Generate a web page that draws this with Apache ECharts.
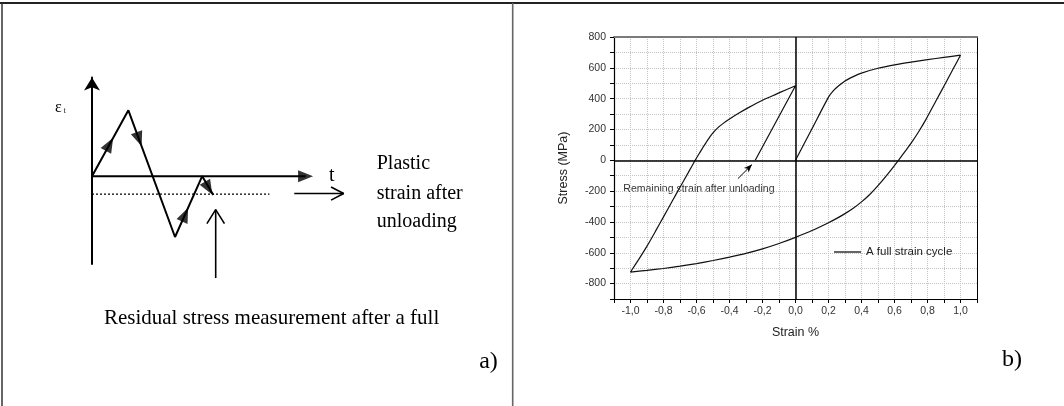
<!DOCTYPE html>
<html>
<head>
<meta charset="utf-8">
<title>Strain cycle</title>
<script src="https://cdn.jsdelivr.net/npm/echarts@6/dist/echarts.min.js"></script>
<style>
  html, body { margin: 0; padding: 0; background: #fff; }
  #main { width: 1064px; height: 406px; }
</style>
</head>
<body>
<div id="main"></div>
<script>
// b) stress-strain loop (strain %, stress MPa)
var loadStrain   = [0, 0.1, 0.2, 0.23, 0.26, 0.3, 0.35, 0.4, 0.5, 0.6, 0.7, 0.8, 0.9, 1.0];
var loadStress   = [0, 205, 410, 452, 482, 515, 543, 566, 597, 619, 637, 653, 668, 682];
var unloadStrain = [1.0, 0.955, 0.91, 0.85, 0.79, 0.75, 0.71, 0.67, 0.624, 0.56, 0.5, 0.45, 0.4, 0.35, 0.3, 0.25,
                    0.2, 0.1, 0, -0.1, -0.2, -0.3, -0.4, -0.5, -0.6, -0.7, -0.8, -0.9, -1.0];
var unloadStress = [682, 592, 502, 383, 264, 192, 126, 66, 0, -88, -165, -222, -270, -311, -346, -377,
                    -405, -456, -500, -540, -575, -604, -628, -650, -670, -687, -702, -714, -725];
var reloadStrain = [-1.0, -0.95, -0.9, -0.85, -0.8, -0.75, -0.7, -0.65, -0.608, -0.58, -0.56, -0.54, -0.52,
                    -0.5, -0.47, -0.44, -0.4, -0.34, -0.28, -0.2, -0.12, -0.06, 0];
var reloadStress = [-725, -643, -557, -463, -367, -271, -175, -80, 0, 50, 85, 118, 150,
                    178, 212, 238, 268, 308, 345, 390, 428, 456, 484];
var remainStrain = [0, -0.244];
var remainStress = [484, 0];
// annotation arrow pointing at the remaining strain
var noteFrom = [-0.349, -119];
var noteTo   = [-0.264, -28];

// a) schematic strain history (arbitrary units)
var zigT   = [0, 1.7, 3.88, 5.15, 5.67];
var zigEps = [0, 3.0, -2.77, 0, -0.86];
var dotT   = [0, 8.29];
var dotEps = [-0.82, -0.82];
var tAxisT   = [0, 9.98];
var tAxisEps = [0, 0];
var headT   = [0.82, 2.2, 4.35, 5.45, 9.98];
var headEps = [1.45, 1.68, -1.75, -0.55, 0];
var headRot = [-29, -160, -24, -150, -90];
// open arrows: [x0, y0, x1, y1]
var upArrow    = [5.78, -4.64, 5.78, -1.52];
var rightArrow = [9.45, -0.79, 11.76, -0.79];

function zip(a, b) {
  var out = [];
  for (var i = 0; i < a.length; i++) out.push([a[i], b[i]]);
  return out;
}

var loop = zip(loadStrain, loadStress)
  .concat(zip(unloadStrain, unloadStress).slice(1))
  .concat(zip(reloadStrain, reloadStress).slice(1))
  .concat(zip(remainStrain, remainStress).slice(1));

var heads = [];
for (var i = 0; i < headT.length; i++) {
  heads.push({ value: [headT[i], headEps[i]], symbolRotate: headRot[i] });
}

// shaft + two barbs for an open arrow head
function openArrow(a, barbBack, barbSide) {
  var x0 = a[0], y0 = a[1], x1 = a[2], y1 = a[3];
  var b1, b2;
  if (x0 === x1) {
    b1 = [x1 - barbSide, y1 - barbBack];
    b2 = [x1 + barbSide, y1 - barbBack];
  } else {
    b1 = [x1 - barbBack, y1 + barbSide];
    b2 = [x1 - barbBack, y1 - barbSide];
  }
  var st = { color: '#000', width: 1.6 };
  return [
    { type: 'line', xAxisIndex: 2, yAxisIndex: 2, data: [[x0, y0], [x1, y1]], symbol: 'none', clip: false, silent: true, lineStyle: st },
    { type: 'line', xAxisIndex: 2, yAxisIndex: 2, data: [b1, [x1, y1], b2], symbol: 'none', clip: false, silent: true, lineStyle: st }
  ];
}

var sans = 'Liberation Sans, Arial, sans-serif';
var serif = 'Liberation Serif, Times New Roman, serif';

var myChart = echarts.init(document.getElementById('main'));

function txt(x, y, s, size, font, align, color) {
  return {
    type: 'text', x: x, y: y, silent: true,
    style: { text: s, font: size + 'px ' + font, fill: color || '#000', textAlign: align || 'left', textVerticalAlign: 'middle' }
  };
}
function seg(x1, y1, x2, y2, color, w) {
  return { type: 'line', silent: true, shape: { x1: x1, y1: y1, x2: x2, y2: y2 }, style: { stroke: color, lineWidth: w } };
}

var option = {
  backgroundColor: '#fff',
  animation: false,
  legend: {
    data: ['A full strain cycle'],
    left: 829, top: 241,
    icon: 'rect',
    itemWidth: 27, itemHeight: 1.3,
    itemStyle: { color: '#111' },
    textStyle: { fontFamily: sans, fontSize: 11.5, color: '#222' }
  },
  grid: [
    { left: 614, top: 37, width: 363, height: 262 },
    { left: 92, top: 77.4, width: 256.8, height: 186.6 }
  ],
  xAxis: [
    {
      gridIndex: 0, type: 'value', min: -1.1, max: 1.1, interval: 0.1, position: 'bottom',
      name: 'Strain %', nameLocation: 'middle', nameGap: 27,
      nameTextStyle: { fontFamily: sans, fontSize: 12.5, color: '#222' },
      axisLine: { onZero: false, lineStyle: { color: '#000', width: 1.2 } },
      axisTick: { length: 4, lineStyle: { color: '#000' } },
      axisLabel: {
        margin: 7, fontFamily: sans, fontSize: 10.5, color: '#333',
        formatter: function (v) {
          var k = Math.round(v * 10);
          if (k % 2 !== 0) return '';
          return (k / 10).toFixed(1).replace('.', ',');
        }
      },
      splitLine: { lineStyle: { color: '#c4c4c4', type: 'dotted', width: 1 } }
    },
    {
      gridIndex: 0, type: 'value', min: -1.1, max: 1.1, interval: 0.1, position: 'top',
      axisLine: { onZero: false, lineStyle: { color: '#7a7a7a', width: 2 } },
      axisTick: { show: false }, axisLabel: { show: false }, splitLine: { show: false }
    },
    {
      gridIndex: 1, type: 'value', min: 0, max: 12,
      axisLine: { show: false },
      axisTick: { show: false }, axisLabel: { show: false }, splitLine: { show: false }
    }
  ],
  yAxis: [
    {
      gridIndex: 0, type: 'value', min: -900, max: 800, interval: 100,
      name: 'Stress (MPa)', nameLocation: 'middle', nameGap: 44, nameRotate: 90,
      nameTextStyle: { fontFamily: sans, fontSize: 12.5, color: '#222' },
      axisLine: { onZero: false, lineStyle: { color: '#000', width: 1.2 } },
      axisTick: { length: 4, lineStyle: { color: '#000' } },
      axisLabel: {
        margin: 8, fontFamily: sans, fontSize: 10.5, color: '#333',
        formatter: function (v) {
          var k = Math.round(v);
          return k % 200 === 0 ? String(k) : '';
        }
      },
      splitLine: { lineStyle: { color: '#c4c4c4', type: 'dotted', width: 1 } }
    },
    {
      gridIndex: 0, type: 'value', min: -900, max: 800, interval: 100, position: 'right',
      axisLine: { onZero: false, lineStyle: { color: '#000', width: 1 } },
      axisTick: { show: false }, axisLabel: { show: false }, splitLine: { show: false }
    },
    {
      gridIndex: 1, type: 'value', min: -4, max: 4.5,
      axisLine: { onZero: false, symbol: ['none', 'arrow'], symbolSize: [12, 13], lineStyle: { color: '#000', width: 2 } },
      axisTick: { show: false }, axisLabel: { show: false }, splitLine: { show: false }
    }
  ],
  series: [
    {
      name: 'A full strain cycle', type: 'line', xAxisIndex: 0, yAxisIndex: 0,
      data: loop, symbol: 'none', silent: true, smooth: 0.2,
      lineStyle: { color: '#111', width: 1.2 },
      itemStyle: { color: '#111' },
      markLine: {
        silent: true, symbol: ['none', 'none'], animation: false,
        label: { show: false },
        lineStyle: { color: '#000', width: 1.5, type: 'solid' },
        data: [
          { yAxis: 0 },
          { xAxis: 0 },
          [
            { coord: noteFrom, symbol: 'none', lineStyle: { width: 1 } },
            { coord: noteTo, symbol: 'arrow', symbolSize: [5, 8] }
          ]
        ]
      }
    },
    {
      type: 'line', xAxisIndex: 2, yAxisIndex: 2, data: zip(zigT, zigEps),
      symbol: 'none', silent: true, lineStyle: { color: '#000', width: 2 }
    },
    {
      type: 'line', xAxisIndex: 2, yAxisIndex: 2, data: zip(tAxisT, tAxisEps),
      symbol: 'none', silent: true, lineStyle: { color: '#000', width: 2 }
    },
    {
      type: 'line', xAxisIndex: 2, yAxisIndex: 2, data: zip(dotT, dotEps),
      symbol: 'none', silent: true, lineStyle: { color: '#000', width: 1.3, type: [2, 2] }
    },
    {
      type: 'scatter', xAxisIndex: 2, yAxisIndex: 2, data: heads,
      symbol: 'triangle', symbolSize: [12, 15], silent: true, itemStyle: { color: '#000' }
    }
  ].concat(openArrow(upArrow, 0.64, 0.41)).concat(openArrow(rightArrow, 0.59, 0.3)),
  graphic: [
    seg(0, 3, 1064, 3, '#222', 2),
    seg(2, 3, 2, 406, '#333', 1.5),
    seg(512.7, 3, 512.7, 406, '#666', 1.6),
    txt(55, 108, 'ε', 16, serif, 'left'),
    txt(63.5, 111, 't', 9, serif, 'left', '#333'),
    txt(331.7, 176, 't', 20, serif, 'center'),
    txt(376.7, 163.3, 'Plastic', 20, serif, 'left'),
    txt(376.7, 193.3, 'strain after', 20, serif, 'left'),
    txt(376.7, 221.7, 'unloading', 20, serif, 'left'),
    txt(271.6, 318.3, 'Residual stress measurement after a full', 21, serif, 'center'),
    txt(488.5, 361.7, 'a)', 24, serif, 'center'),
    txt(1012, 360, 'b)', 24, serif, 'center'),
    txt(623.3, 189.3, 'Remaining strain after unloading', 10.5, sans, 'left', '#333')
  ]
};
myChart.setOption(option);
</script>
</body>
</html>
